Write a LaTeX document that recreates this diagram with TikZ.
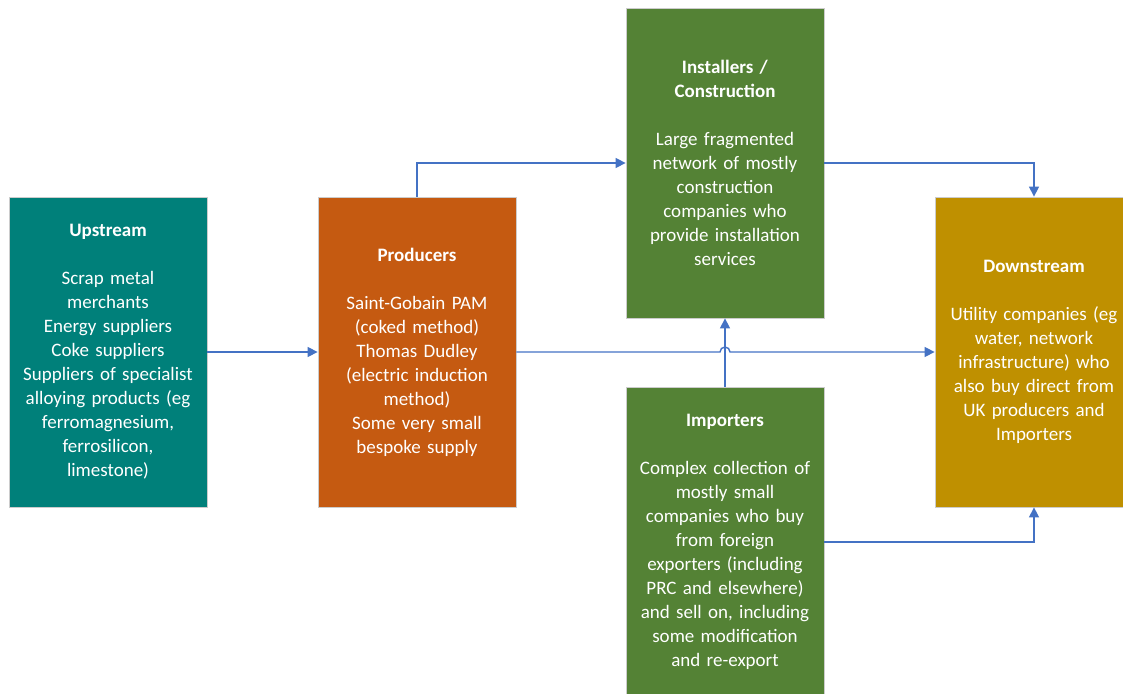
\documentclass[tikz,border=0pt]{standalone}
\usepackage{fontspec}
\setmainfont{Carlito}
\usetikzlibrary{arrows.meta}
\definecolor{cteal}{RGB}{0,128,122}
\definecolor{corange}{RGB}{197,90,17}
\definecolor{cgreen}{RGB}{84,130,53}
\definecolor{cgold}{RGB}{191,144,0}
\definecolor{carrow}{RGB}{68,114,196}
\begin{document}
\begin{tikzpicture}[x=1pt,y=1pt,
  box/.style={draw=black!20, line width=0.8pt, minimum width=198pt, minimum height=310pt,
    text width=194pt, align=center, text=white, inner sep=0pt,
    font=\fontsize{19}{24}\selectfont},
  conn/.style={draw=carrow, line width=1.4pt, -{Triangle[width=10pt,length=10pt]}}]
\useasboundingbox (0,0) rectangle (1123,693);
\begin{scope}
\clip (0,0) rectangle (1123,693);
\node[box, fill=cteal] (up) at (108,341) {\textbf{Upstream}\\[24pt]Scrap metal\\merchants\\Energy suppliers\\Coke suppliers\\Suppliers of specialist\\alloying products (eg\\ferromagnesium,\\ferrosilicon,\\limestone)};
\node[box, fill=corange] (prod) at (417,341) {\textbf{Producers}\\[24pt]Saint-Gobain PAM\\(coked method)\\Thomas Dudley\\(electric induction\\method)\\Some very small\\bespoke supply};
\node[box, fill=cgreen] (inst) at (725,530) {\textbf{Installers /}\\\textbf{Construction}\\[24pt]Large fragmented\\network of mostly\\construction\\companies who\\provide installation\\services};
\node[box, fill=cgreen] (imp) at (725,151) {\textbf{Importers}\\[24pt]Complex collection of\\mostly small\\companies who buy\\from foreign\\exporters (including\\PRC and elsewhere)\\and sell on, including\\some modification\\and re-export};
\node[box, fill=cgold] (down) at (1034,341) {\textbf{Downstream}\\[24pt]Utility companies (eg\\water, network\\infrastructure) who\\also buy direct from\\UK producers and\\Importers};
\end{scope}
\coordinate (hop) at (imp.north |- prod.east);
\draw[conn] (up.east) -- (prod.west);
\draw[conn] (prod.north) |- (inst.west);
\draw[conn] (inst.east) -| (down.north);
\draw[conn] (imp.north) -- (inst.south);
\draw[conn] (imp.east) -| (down.south);
\draw[conn] (prod.east) -- ([xshift=-5pt]hop) arc[start angle=180,end angle=0,radius=5pt] -- (down.west);
\end{tikzpicture}
\end{document}
